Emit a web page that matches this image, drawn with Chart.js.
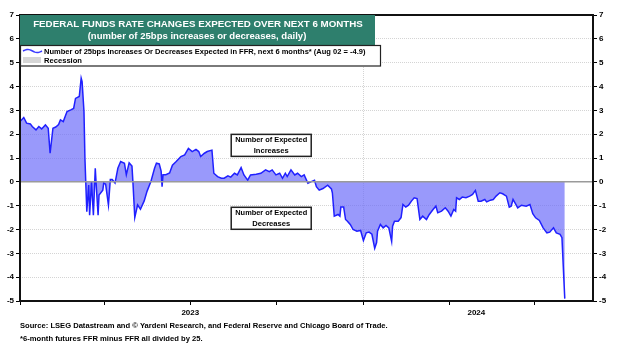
<!DOCTYPE html>
<html><head><meta charset="utf-8">
<script src="https://cdn.jsdelivr.net/npm/chart.js@4.4.1/dist/chart.umd.min.js"></script>
<style>html,body{margin:0;padding:0;background:#fff;}#wrap{position:relative;width:624px;height:348px;}</style>
</head><body><div id="wrap"><canvas id="c" width="624" height="348"></canvas></div>
<script>
// x values: days since 2023-01-01
const days = [0,4,7,11,13,17,20,23,27,30,32,35,38,41,43,46,48,50,54,57,59,63,65,66,68,69,71,73,74,76,78,80,81,83,84,88,89,91,94,96,98,101,104,107,111,113,116,119,120,122,125,128,132,135,139,143,145,148,150,151,152,155,159,162,166,171,175,179,183,187,190,
192,196,199,204,206,210,214,217,221,224,228,231,235,238,242,245,251,256,261,265,268,272,276,279,282,284,288,292,295,299,302,306,309,313,315,318,322,327,
331,332,334,338,340,341,344,346,348,351,354,358,362,365,368,371,374,377,379,380,383,386,389,392,395,396,398,402,405,407,410,413,416,419,422,425,428,432,435,439,442,444,448,452,455,458,461,463,464,467,470,474,478,481,484,487,490,494,496,500,503,506,510,513,517,520,522,524,527,529,533,538,542,545,548,552,556,560,563,567,570,574,576,579];
const values = [2.53,2.7,2.46,2.43,2.32,2.18,2.32,2.22,2.39,2.25,1.2,2.25,2.3,2.4,2.6,2.53,2.74,2.95,3.02,3.08,3.5,3.58,4.35,4.2,2.95,1.0,-1.25,-0.13,-1.4,0.0,-1.4,0.57,-0.13,-1.4,-0.55,-0.35,-0.05,-0.1,-0.97,0.1,0.1,-0.05,0.57,0.85,0.78,0.3,0.8,0.66,0.0,-1.5,-0.97,-1.15,-0.8,-0.4,0.0,0.57,0.78,0.75,0.45,-0.2,0.3,0.3,0.37,0.7,0.85,1.06,1.13,1.4,1.27,1.36,1.27,
1.06,1.2,1.27,1.33,0.36,0.22,0.15,0.15,0.25,0.2,0.36,0.29,0.6,0.29,0.07,0.29,0.32,0.36,0.5,0.43,0.5,0.29,0.36,0.15,0.36,0.22,0.5,0.29,0.36,0.22,0.29,-0.06,0.0,0.07,-0.2,-0.35,-0.28,-0.14,
-0.3,-0.46,-1.44,-1.37,-1.44,-1.06,-1.06,-1.58,-1.65,-1.79,-2.0,-2.07,-2.04,-2.46,-2.14,-2.11,-2.2,-2.79,-2.55,-2.07,-1.79,-1.93,-1.83,-1.93,-2.5,-1.86,-1.65,-1.65,-1.5,-0.95,-1.06,-0.98,-0.81,-0.67,-0.7,-1.58,-1.44,-1.58,-1.37,-1.16,-1.02,-1.3,-1.23,-1.09,-1.23,-1.44,-1.16,-1.23,-0.67,-0.74,-0.64,-0.67,-0.6,-0.53,-0.36,-0.81,-0.81,-0.74,-0.84,-0.77,-0.74,-0.6,-0.46,-0.5,-0.6,-1.06,-1.02,-0.74,-0.95,-1.09,-0.98,-1.02,-0.95,-1.34,-1.51,-1.62,-1.93,-2.14,-2.11,-1.93,-2.14,-2.2,-2.34,-4.9];
const xTickDays = [0,90,181,273,365,456,547];
const yearLabels = ['2023','2024'];
const yearLabelDays = [181,485];
const yearBoundaryDays = [365];
const titleLines = ['FEDERAL FUNDS RATE CHANGES EXPECTED OVER NEXT 6 MONTHS','(number of 25bps increases or decreases, daily)'];
const legendLabels = ['Number of 25bps Increases Or Decreases Expected in FFR, next 6 months* (Aug 02 = -4.9)','Recession'];
const noteIncreases = ['Number of Expected','Increases'];
const noteDecreases = ['Number of Expected','Decreases'];
const footer = ['Source: LSEG Datastream and \u00a9 Yardeni Research, and Federal Reserve and Chicago Board of Trade.','*6-month futures FFR minus FFR all divided by 25.'];

const FONT = '"Liberation Sans", Arial, sans-serif';
function fitText(ctx, text, x, y, width, align, color){
  ctx.font = 'bold 10px ' + FONT;
  const w = ctx.measureText(text).width;
  const size = 10 * width / w;
  ctx.font = 'bold ' + size.toFixed(2) + 'px ' + FONT;
  ctx.fillStyle = color; ctx.textAlign = align; ctx.textBaseline = 'middle';
  ctx.fillText(text, x, y);
}
function noteBox(ctx, cx, cy, lines){
  const w = 80, h = 22;
  ctx.fillStyle = '#fff'; ctx.fillRect(cx - w/2, cy - h/2, w, h);
  ctx.strokeStyle = '#222'; ctx.lineWidth = 1.5; ctx.strokeRect(cx - w/2, cy - h/2, w, h);
  fitText(ctx, lines[0], cx, cy - 5, 72, 'center', '#000');
  ctx.font = 'bold 7.6px ' + FONT; ctx.textAlign='center'; ctx.fillText(lines[1], cx, cy + 5.5);
}
const decor = {
  id: 'decor',
  afterDatasetsDraw(chart){
    const ctx = chart.ctx, a = chart.chartArea, ys = chart.scales.y, xs = chart.scales.x;
    ctx.save();
    // zero line
    const y0 = ys.getPixelForValue(0);
    ctx.strokeStyle = '#9a9a9a'; ctx.lineWidth = 1.5;
    ctx.beginPath(); ctx.moveTo(a.left, y0); ctx.lineTo(a.right, y0); ctx.stroke();
    // frame
    ctx.strokeStyle = '#111'; ctx.lineWidth = 2;
    ctx.strokeRect(a.left, a.top, a.right - a.left, a.bottom - a.top);
    // title box
    ctx.fillStyle = '#2e7f6d';
    ctx.fillRect(a.left, a.top, 375 - a.left, 30);
    fitText(ctx, titleLines[0], 198, a.top + 9.5, 330, 'center', '#fff');
    fitText(ctx, titleLines[1], 197, a.top + 21.5, 219, 'center', '#fff');
    // legend box
    ctx.fillStyle = '#fff'; ctx.fillRect(a.left, 45.5, 360, 20.5);
    ctx.strokeStyle = '#222'; ctx.lineWidth = 1.2; ctx.strokeRect(a.left + 0.5, 45.5, 360, 20.5);
    ctx.strokeStyle = '#3a3aff'; ctx.lineWidth = 1.5;
    ctx.beginPath();
    for (let i = 0; i <= 19; i++) { const px = 23 + i; const py = 51 - 1.5 * Math.sin(i / 19 * Math.PI * 2); if (i===0) ctx.moveTo(px, py); else ctx.lineTo(px, py); }
    ctx.stroke();
    fitText(ctx, legendLabels[0], 44, 51.5, 322, 'left', '#000');
    ctx.fillStyle = '#d6d6d6'; ctx.fillRect(23, 57, 18, 6);
    fitText(ctx, legendLabels[1], 44, 60.5, 38, 'left', '#000');
    // notes
    noteBox(ctx, xs.getPixelForValue(267), ys.getPixelForValue(1.53), noteIncreases);
    noteBox(ctx, xs.getPixelForValue(267), ys.getPixelForValue(-1.53), noteDecreases);
    // footer
    fitText(ctx, footer[0], 20, 325.5, 368, 'left', '#000');
    fitText(ctx, footer[1], 20, 338.5, 183, 'left', '#000');
    ctx.restore();
  }
};

const tickFont = {family: FONT, size: 8, weight: 'bold'};
const yScale = (pos) => ({
  type: 'linear', position: pos, min: -5, max: 7,
  ticks: {stepSize: 1, font: tickFont, color: '#000', padding: 2},
  grid: {color: '#d4d4d4', lineWidth: 1, drawOnChartArea: pos === 'left', tickColor: '#000', tickLength: 4, tickWidth: 1},
  border: {display: false, dash: [1, 1]},
  afterFit: (s) => { s.width = pos === 'left' ? 20 : 31; }
});
const allXTicks = xTickDays.concat(yearLabelDays.filter(d => !xTickDays.includes(d))).sort((p, q) => p - q);

new Chart(document.getElementById('c'), {
  type: 'line',
  data: {datasets: [{
    data: days.map((d, i) => ({x: d, y: values[i]})),
    borderColor: '#2020ff', borderWidth: 1.5,
    backgroundColor: 'rgba(110,110,250,0.7)',
    fill: 'origin', pointRadius: 0, tension: 0, yAxisID: 'y'
  }]},
  options: {
    responsive: false, animation: false, devicePixelRatio: 1,
    layout: {padding: {top: 15, left: 0, right: 0, bottom: 29}},
    plugins: {legend: {display: false}, tooltip: {enabled: false}},
    scales: {
      x: {
        type: 'linear', min: 0, max: 609, position: 'bottom',
        afterBuildTicks: (s) => { s.ticks = allXTicks.map(v => ({value: v})); },
        ticks: {
          autoSkip: false, maxRotation: 0, font: tickFont, color: '#000', padding: 3,
          callback: (v) => { const k = yearLabelDays.indexOf(v); return k >= 0 ? yearLabels[k] : ''; }
        },
        grid: {
          color: (c) => (c.tick && yearBoundaryDays.includes(c.tick.value)) ? '#d4d4d4' : 'rgba(0,0,0,0)',
          tickColor: (c) => (c.tick && xTickDays.includes(c.tick.value)) ? '#000' : 'rgba(0,0,0,0)',
          tickLength: 4, tickWidth: 1
        },
        border: {display: false, dash: [1, 1]},
        afterFit: (s) => { s.height = 18; }
      },
      y: yScale('left'),
      y2: yScale('right')
    }
  },
  plugins: [decor]
});
</script></body></html>
